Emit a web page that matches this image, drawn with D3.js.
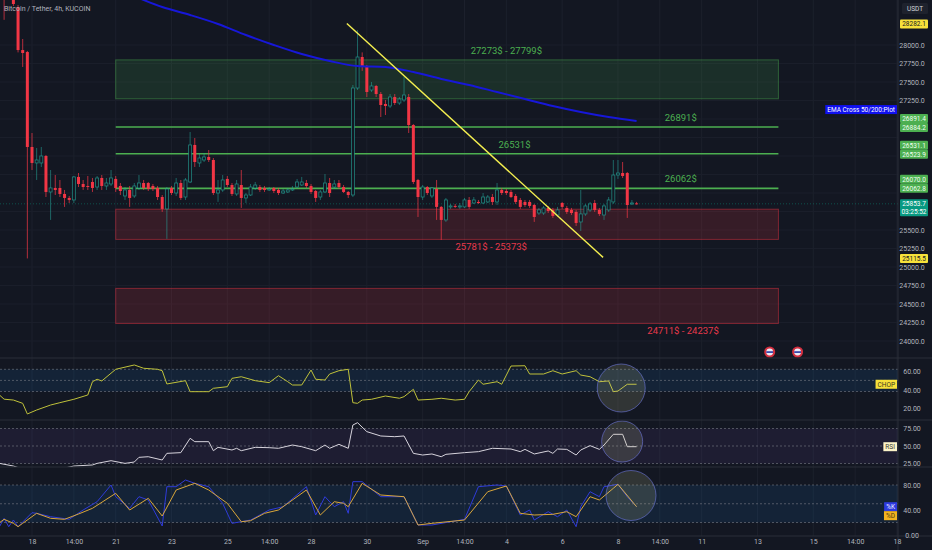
<!DOCTYPE html>
<html>
<head>
<meta charset="utf-8">
<script src="https://d3js.org/d3.v7.min.js"></script>
<style>
  html, body { margin: 0; padding: 0; background: #131722; overflow: hidden; }
  svg { display: block; font-family: Roboto, 'Noto Sans', sans-serif; }
</style>
</head>
<body>
<script>
/* global d3 */
(function () {
  'use strict'

  // BTC/USDT 4h candles, bar index k (k = 0 is Aug 17 10:00), first bar k = -2
  var firstK = -2
  var opens = [
    28900, 28700, 28650, 28513, 27932, 27905, 26622, 26406, 26406, 26500,
    26014, 26068, 26068, 25987, 25933, 25906, 26217, 26122, 26095, 26149,
    26081, 26203, 26095, 26122, 26190, 26095, 25960, 26041, 25960, 26068,
    26135, 26135, 26095, 26068, 25946, 25785, 26068, 26000, 26135, 25946,
    26149, 26649, 26406, 26446, 26487, 26446, 26000, 26041, 26190, 26108,
    25987, 26108, 25933, 25973, 26068, 26081, 26068, 26041, 26068, 26041,
    26000, 26014, 26041, 26081, 26108, 26135, 26095, 26027, 25946, 26014,
    26135, 26081, 26135, 26081, 26014, 25973, 27419, 27838, 27703, 27392,
    27446, 27338, 27203, 27176, 27297, 27216, 27257, 27297, 26919, 26176,
    25946, 26081, 25960, 26054, 25812, 25636, 25812, 25825, 25812, 25812,
    25906, 25865, 25879, 25865, 25879, 25946, 25879, 26041, 26027, 26014,
    25960, 25906, 25879, 25879, 25838, 25730, 25730, 25798, 25771, 25703,
    25865, 25798, 25771, 25744, 25609, 25717, 25771, 25865, 25771, 25703,
    25771, 25879, 26243, 26270, 26270, 25852, 25860
  ]
  var highs = [
    29000, 28950, 28700, 28540, 28081, 27920, 26811, 26608, 26622, 26514,
    26311, 26243, 26176, 26041, 25960, 26230, 26270, 26176, 26230, 26203,
    26230, 26243, 26203, 26311, 26230, 26135, 26081, 26095, 26135, 26243,
    26176, 26149, 26122, 26095, 25973, 26081, 26095, 26203, 26176, 26203,
    26824, 26743, 26540, 26541, 26581, 26473, 26176, 26243, 26230, 26135,
    26176, 26311, 26000, 26122, 26149, 26108, 26095, 26081, 26081, 26068,
    26054, 26068, 26095, 26190, 26217, 26176, 26122, 26041, 26041, 26257,
    26203, 26176, 26176, 26108, 26027, 27460, 28200, 27900, 27730, 27500,
    27460, 27365, 27257, 27338, 27338, 27297, 27568, 27338, 26932, 26190,
    26108, 26095, 26081, 26176, 25825, 25933, 25852, 25852, 25865, 25933,
    25946, 25946, 25906, 26000, 25973, 25987, 26135, 26068, 26054, 26041,
    25987, 25933, 25906, 25906, 25852, 25798, 25825, 25825, 25798, 25812,
    25879, 25825, 25798, 25771, 26041, 25852, 25879, 25906, 25798, 25852,
    25946, 26446, 26446, 26419, 26284, 25906, 25880
  ]
  var lows = [
    28340, 28620, 28527, 27900, 27703, 25115.5, 26311, 26176, 26351, 25946,
    25636, 25973, 25946, 25812, 25865, 25865, 26081, 26041, 26041, 26014,
    26041, 26041, 26041, 26095, 26014, 25973, 25906, 25812, 25933, 26041,
    26041, 26027, 26027, 25906, 25744, 25380, 25973, 25960, 25906, 25906,
    26135, 26352, 26352, 26419, 26419, 25973, 25880, 26014, 26081, 25960,
    25960, 25798, 25865, 25960, 26041, 26014, 26014, 26027, 26000, 25973,
    25987, 26000, 26027, 26068, 26095, 26068, 25987, 25879, 25906, 26000,
    25946, 26054, 26054, 26000, 25933, 25946, 27392, 27650, 27297, 27365,
    27297, 27027, 27054, 27149, 27189, 27189, 27230, 26811, 26122, 25676,
    25906, 25973, 25933, 25636, 25366, 25609, 25785, 25798, 25785, 25798,
    25785, 25852, 25852, 25852, 25865, 25838, 25838, 25973, 25973, 25933,
    25852, 25785, 25812, 25798, 25609, 25703, 25703, 25730, 25663, 25676,
    25785, 25717, 25703, 25555, 25487, 25690, 25744, 25744, 25690, 25636,
    25744, 25852, 26190, 26203, 25663, 25838, 25845
  ]
  var closes = [
    28700, 28650, 28554, 27932, 27892, 26622, 26406, 26446, 26500, 26014,
    26068, 26041, 25987, 25933, 25906, 26217, 26122, 26081, 26090, 26068,
    26203, 26095, 26135, 26203, 26068, 26027, 26041, 25933, 26095, 26135,
    26068, 26054, 26054, 25946, 25785, 26054, 26000, 26135, 25933, 26176,
    26649, 26419, 26473, 26487, 26446, 26000, 26041, 26176, 26108, 25987,
    26122, 25933, 25973, 26081, 26108, 26041, 26041, 26054, 26027, 26000,
    26027, 26041, 26054, 26149, 26149, 26095, 26014, 25933, 26014, 26135,
    26000, 26122, 26081, 26014, 25973, 27419, 27838, 27703, 27365, 27446,
    27338, 27189, 27176, 27297, 27216, 27270, 27324, 26919, 26149, 25946,
    26081, 26000, 26068, 25812, 25636, 25906, 25825, 25812, 25825, 25906,
    25812, 25906, 25865, 25946, 25946, 25879, 26041, 26000, 26000, 25946,
    25879, 25812, 25838, 25825, 25676, 25771, 25798, 25757, 25690, 25771,
    25812, 25744, 25730, 25595, 25717, 25825, 25852, 25771, 25717, 25825,
    25906, 26243, 26270, 26230, 25838, 25865, 25853.7
  ]

  // EMA 200, [bar, price]
  var emaPts = [
    [26, 28660], [32, 28513], [38, 28405], [44, 28284], [50, 28135], [56, 28000],
    [62, 27878], [68, 27784], [74, 27716], [80, 27703], [86, 27635], [92, 27541],
    [98, 27460], [104, 27365], [110, 27270], [116, 27176], [122, 27095], [128, 27027],
    [134, 26973]
  ]
  // yellow trend line, [bar, price]
  var trendPts = [[71.7, 28290], [126.8, 25130]]

  // supply / demand zones and levels
  var zoneTops = [27799, 25781, 24711]
  var zoneBottoms = [27273, 25373, 24237]
  var zoneTexts = ['27273$ - 27799$', '25781$ - 25373$', '24711$ - 24237$']
  var zoneBull = [true, false, false]
  var levels = [26891, 26531, 26062]
  var levelTexts = ['26891$', '26531$', '26062$']
  var zoneFrom = Date.UTC(2023, 7, 21, 2)
  var zoneTo = Date.UTC(2023, 8, 13, 20)

  // indicators, [bar, value]
  var chopPts = [
    [-3, 34.5], [-2, 30], [0, 29.1], [2, 25.6], [3, 14.3], [5, 18.5], [8, 23.8], [10, 26.3],
    [13, 29.9], [16, 34.5], [17, 48.6], [18, 51.2], [19, 49.4], [22, 61.8], [26, 66.4],
    [28, 62.9], [31, 61.8], [32, 60.3], [33, 46.2], [37, 49.7], [38, 38], [42, 38],
    [43, 41.6], [46, 43.3], [47, 52.2], [49, 53.9], [52, 49.7], [55, 47.6], [57, 55],
    [59, 48.6], [60, 45.1], [62, 45.1], [64, 61], [65, 51.2], [67, 50.4], [68, 56.8],
    [70, 60.3], [72, 61.8], [73, 26.3], [74, 25.6], [75, 29.1], [77, 29.9], [80, 33.4],
    [83, 31], [84, 32.7], [86, 40.5], [87, 29.1], [90, 29.9], [92, 31], [95, 29.1],
    [97, 29.9], [98, 38], [100, 50.4], [101, 45.9], [104, 48.6], [105, 45.9], [107, 65.3],
    [110, 65.6], [111, 56.8], [114, 56.8], [116, 60.3], [118, 56.8], [121, 60.3],
    [122, 55.7], [124, 53.9], [126, 48.6], [128, 49.4], [129, 38], [130, 38.7],
    [132, 45.9], [134, 45.9]
  ]
  var rsiPts = [
    [-3, 25.2], [0, 21.4], [2, 17], [4, 13], [7, 14], [10, 17], [13, 21.4], [17, 22.9],
    [18, 25.2], [21, 29], [24, 25.2], [26, 27.1], [27, 33.8], [29, 34.7], [32, 30],
    [33, 39.5], [36, 40.5], [38, 61], [39, 56.2], [42, 56.2], [43, 43.3], [44, 48.1],
    [47, 44.3], [48, 46.7], [49, 43.3], [52, 48.1], [55, 47.6], [57, 46.7], [60, 51.4],
    [62, 49], [65, 43.3], [67, 51.4], [68, 46.7], [70, 52.4], [72, 46.7], [73, 80],
    [74, 83.3], [76, 70.5], [79, 64.3], [82, 63.3], [84, 64.3], [86, 39.5], [88, 37.1],
    [90, 38.6], [92, 34.7], [93, 38.1], [97, 40.5], [100, 41.9], [103, 46.7], [107, 45.7],
    [109, 41.9], [110, 45.2], [112, 38.6], [115, 42.9], [116, 39.5], [117, 45.7],
    [119, 45.2], [121, 37.1], [122, 44.3], [124, 50.5], [126, 45.2], [127, 51.4],
    [129, 66.7], [131, 66.7], [132, 49], [134, 49]
  ]
  var stochK = [
    [-3, 13.3], [-2, 26.7], [-1, 13.3], [0, 24], [1, 13.3], [4, 35.7], [5, 34.7], [8, 29.3],
    [12, 25.1], [15, 40], [18, 53.3], [21, 80], [22, 61.3], [25, 42.7], [27, 61.3], [29, 56],
    [32, 14.4], [33, 77.3], [35, 77.3], [37, 88], [39, 82.7], [42, 77.3], [45, 50.7],
    [47, 18.7], [49, 21.3], [51, 24], [55, 40], [58, 45.3], [63, 77.3], [65, 32], [67, 61.3],
    [69, 45.3], [71, 53.3], [72, 34.7], [73, 85.3], [75, 85.3], [79, 61.3], [84, 61.3],
    [87, 16], [90, 16], [97, 25.1], [100, 77.3], [104, 80], [106, 78.4], [109, 32],
    [111, 40], [112, 24], [115, 37.3], [117, 29.3], [119, 40], [121, 13.3], [122, 45.3],
    [124, 69.3], [126, 61.3], [127, 77.3], [130, 81.1], [132, 61.3], [134, 45.3]
  ]
  var stochD = [
    [-3, 19.7], [-2, 25.1], [0, 18.7], [1, 13.3], [2, 18.7], [5, 34.7], [8, 26.7], [11, 25.1],
    [14, 33.6], [17, 42.7], [22, 66.7], [25, 40], [29, 58.7], [32, 30.4], [35, 72],
    [39, 82.7], [42, 72], [46, 50.7], [49, 21.3], [51, 22.9], [54, 34.7], [57, 40],
    [63, 72], [66, 32], [69, 53.3], [71, 50.7], [72, 45.3], [75, 82.7], [79, 64], [84, 61.3],
    [87, 16], [90, 18.7], [97, 24], [102, 69.3], [106, 78.4], [109, 34.7], [112, 32],
    [116, 33.1], [119, 37.3], [121, 29.3], [124, 61.3], [126, 56], [129, 74.7], [130, 81.1],
    [134, 45.3]
  ]
  // hand-drawn circles on the indicator panes, [bar, value]
  var chopMark = [130.7, 41.9]
  var rsiMark = [130.9, 56.4]
  var stochMark = [132.8, 63.2]

  // axis tick labels
  var timeTicks = [
    Date.UTC(2023, 7, 18, 2), Date.UTC(2023, 7, 19, 14), Date.UTC(2023, 7, 21, 2),
    Date.UTC(2023, 7, 23, 2), Date.UTC(2023, 7, 25, 2), Date.UTC(2023, 7, 26, 14),
    Date.UTC(2023, 7, 28, 2), Date.UTC(2023, 7, 30, 2), Date.UTC(2023, 8, 1, 2),
    Date.UTC(2023, 8, 2, 14), Date.UTC(2023, 8, 4, 2), Date.UTC(2023, 8, 6, 2),
    Date.UTC(2023, 8, 8, 2), Date.UTC(2023, 8, 9, 14), Date.UTC(2023, 8, 11, 2),
    Date.UTC(2023, 8, 13, 2), Date.UTC(2023, 8, 15, 2), Date.UTC(2023, 8, 16, 14),
    Date.UTC(2023, 8, 18, 2)
  ]
  var timeLabels = ['18', '14:00', '21', '23', '25', '14:00', '28', '30', 'Sep', '14:00',
    '4', '6', '8', '14:00', '11', '13', '15', '14:00', '18']
  var priceTicks = d3.range(24000, 28001, 250)
  var chopTicks = [20, 40, 60]
  var rsiTicks = [25, 50, 75]
  var stochTicks = [0, 40, 80]

  // price tags on the right scale
  var tagPrices = [25115.5, 25853.7, 26062.8, 26070.0, 26523.9, 26531.1, 26884.2, 26891.4, 28282.1]
  var tagKinds = ['hl', 'last', 'lvl', 'lvl', 'lvl', 'lvl', 'lvl', 'lvl', 'hl']
  var countdown = '03:25:52'
  var eventTimes = [Date.UTC(2023, 8, 13, 12, 30), Date.UTC(2023, 8, 14, 12, 30)]

  var W = 932
  var H = 550
  var plotR = 898
  var H4 = 4 * 3600 * 1000
  var barZero = Date.UTC(2023, 7, 17, 10)
  var bg = '#131722'
  var upCol = '#26a69a'
  var downCol = '#f23645'
  var sep = '#2a2e39'

  function barTime (k) { return new Date(barZero + k * H4) }

  var x = d3.scaleUtc()
    .domain([new Date(Date.UTC(2023, 7, 18, 2)), new Date(Date.UTC(2023, 8, 18, 2))])
    .range([32, 897])
  var y = d3.scaleLinear().domain([24000, 28000]).range([341, 45])
  var yChop = d3.scaleLinear().domain([20, 60]).range([408.6, 371])
  var yRsi = d3.scaleLinear().domain([25, 75]).range([463.5, 428.5])
  var yStoch = d3.scaleLinear().domain([0, 80]).range([535, 485])

  var panes = {
    main: [0, 358],
    chop: [358, 420],
    rsi: [420, 467],
    stoch: [467, 536]
  }

  var svg = d3.select('body').append('svg')
    .attr('width', W)
    .attr('height', H)

  svg.append('rect').attr('width', W).attr('height', H).attr('fill', bg)

  var defs = svg.append('defs')
  Object.keys(panes).forEach(function (name) {
    defs.append('clipPath').attr('id', 'clip-' + name)
      .append('rect')
      .attr('x', 0).attr('y', panes[name][0])
      .attr('width', plotR).attr('height', panes[name][1] - panes[name][0])
  })

  // grid
  var grid = svg.append('g')
  grid.selectAll('line.v')
    .data(timeTicks)
    .enter().append('line')
      .attr('x1', function (d) { return x(d) })
      .attr('x2', function (d) { return x(d) })
      .attr('y1', 0).attr('y2', 536)
      .attr('stroke', '#1c202c')
  grid.selectAll('line.h')
    .data(priceTicks)
    .enter().append('line')
      .attr('x1', 0).attr('x2', plotR)
      .attr('y1', function (d) { return y(d) })
      .attr('y2', function (d) { return y(d) })
      .attr('stroke', '#1a1e2a')

  // ---- main pane
  var main = svg.append('g').attr('clip-path', 'url(#clip-main)')

  var zoneG = main.append('g')
  zoneTops.forEach(function (top, i) {
    var col = zoneBull[i] ? '76,175,80' : '242,54,69'
    zoneG.append('rect')
      .attr('x', x(zoneFrom))
      .attr('y', y(top))
      .attr('width', x(zoneTo) - x(zoneFrom))
      .attr('height', y(zoneBottoms[i]) - y(top))
      .attr('fill', 'rgba(' + col + ',0.16)')
      .attr('stroke', 'rgba(' + col + ',0.45)')
      .attr('stroke-width', 1)
  })
  levels.forEach(function (lv) {
    zoneG.append('line')
      .attr('x1', x(zoneFrom)).attr('x2', x(zoneTo))
      .attr('y1', y(lv)).attr('y2', y(lv))
      .attr('stroke', '#4caf50')
      .attr('stroke-width', 1.6)
  })

  // current price line
  var lastClose = closes[closes.length - 1]
  main.append('line')
    .attr('x1', 0).attr('x2', plotR)
    .attr('y1', y(lastClose)).attr('y2', y(lastClose))
    .attr('stroke', '#089981')
    .attr('stroke-opacity', 0.45)
    .attr('stroke-dasharray', '1,2')

  // candles
  var candles = opens.map(function (o, i) {
    return { k: firstK + i, o: o, h: highs[i], l: lows[i], c: closes[i] }
  })
  var bw = 3
  var cg = main.selectAll('g.candle')
    .data(candles)
    .enter().append('g')
  cg.append('line')
    .attr('x1', function (d) { return x(barTime(d.k)) })
    .attr('x2', function (d) { return x(barTime(d.k)) })
    .attr('y1', function (d) { return y(d.h) })
    .attr('y2', function (d) { return y(d.l) })
    .attr('stroke', function (d) { return d.c >= d.o ? upCol : downCol })
    .attr('stroke-opacity', function (d) { return d.c >= d.o ? 0.7 : 0.9 })
    .attr('stroke-width', 0.8)
  cg.append('rect')
    .attr('x', function (d) { return x(barTime(d.k)) - bw / 2 })
    .attr('y', function (d) { return y(Math.max(d.o, d.c)) })
    .attr('width', bw)
    .attr('height', function (d) { return Math.max(1, Math.abs(y(d.o) - y(d.c))) })
    .attr('fill', function (d) { return d.c >= d.o ? bg : downCol })
    .attr('stroke', function (d) { return d.c >= d.o ? upCol : 'none' })
    .attr('stroke-opacity', 0.75)
    .attr('stroke-width', 0.8)

  // EMA + trend line
  main.append('path')
    .datum(emaPts)
    .attr('d', d3.line()
      .x(function (d) { return x(barTime(d[0])) })
      .y(function (d) { return y(d[1]) })
      .curve(d3.curveMonotoneX))
    .attr('fill', 'none')
    .attr('stroke', '#1717d9')
    .attr('stroke-width', 2)
  main.append('path')
    .datum(trendPts)
    .attr('d', d3.line()
      .x(function (d) { return x(barTime(d[0])) })
      .y(function (d) { return y(d[1]) }))
    .attr('stroke', '#f5f050')
    .attr('stroke-width', 1.4)

  // zone / level captions
  var zoneTextAt = [Date.UTC(2023, 8, 4, 2), Date.UTC(2023, 8, 3, 13), Date.UTC(2023, 8, 10, 10)]
  var levelTextAt = [Date.UTC(2023, 8, 10, 8), Date.UTC(2023, 8, 4, 9), Date.UTC(2023, 8, 10, 8)]
  zoneTexts.forEach(function (t, i) {
    main.append('text')
      .attr('x', x(zoneTextAt[i]))
      .attr('y', zoneBull[i] ? y(zoneTops[i]) - 6 : y(zoneBottoms[i]) + 11)
      .attr('text-anchor', 'middle')
      .attr('fill', zoneBull[i] ? '#4caf50' : '#e8394b')
      .style('font-size', '9.5px')
      .text(t)
  })
  levelTexts.forEach(function (t, i) {
    main.append('text')
      .attr('x', x(levelTextAt[i]))
      .attr('y', y(levels[i]) - 6)
      .attr('text-anchor', 'middle')
      .attr('fill', '#4caf50')
      .style('font-size', '9.5px')
      .text(t)
  })

  // economic event markers
  var ev = main.selectAll('g.ev')
    .data(eventTimes)
    .enter().append('g')
      .attr('transform', function (d) { return 'translate(' + x(d) + ',352)' })
  ev.append('circle').attr('r', 5.5).attr('fill', '#d32f3f')
  ev.append('circle').attr('r', 3.4).attr('fill', '#e8eaf6')
  ev.append('rect').attr('x', -3.4).attr('y', -0.8).attr('width', 6.8).attr('height', 1.8).attr('fill', '#3949ab')

  svg.append('text')
    .attr('x', 4).attr('y', 11)
    .attr('fill', '#b2b5be')
    .style('font-size', '7px')
    .text('Bitcoin / Tether, 4h, KUCOIN')

  // ---- indicator panes
  function pane (name, scale, bandHi, bandLo, bandFill, dashes) {
    var g = svg.append('g').attr('clip-path', 'url(#clip-' + name + ')')
    g.append('rect')
      .attr('x', 0).attr('width', plotR)
      .attr('y', scale(bandHi))
      .attr('height', scale(bandLo) - scale(bandHi))
      .attr('fill', bandFill)
    g.selectAll('line.d')
      .data(dashes)
      .enter().append('line')
        .attr('x1', 0).attr('x2', plotR)
        .attr('y1', function (d) { return scale(d) })
        .attr('y2', function (d) { return scale(d) })
        .attr('stroke', '#787b86')
        .attr('stroke-opacity', 0.6)
        .attr('stroke-dasharray', '2,2')
    return g
  }
  function drawLine (g, pts, scale, col) {
    g.append('path')
      .datum(pts)
      .attr('d', d3.line()
        .x(function (d) { return x(barTime(d[0])) })
        .y(function (d) { return scale(d[1]) }))
      .attr('fill', 'none')
      .attr('stroke', col)
      .attr('stroke-width', 1)
  }
  function drawMark (g, m, scale, r) {
    g.append('circle')
      .attr('cx', x(barTime(m[0])))
      .attr('cy', scale(m[1]))
      .attr('r', r)
      .attr('fill', 'rgba(200,200,150,0.17)')
      .attr('stroke', 'rgba(110,120,220,0.6)')
      .attr('stroke-width', 1)
  }

  var chopG = pane('chop', yChop, 61.8, 38.2, 'rgba(33,150,243,0.10)', [61.8, 50, 38.2])
  drawLine(chopG, chopPts, yChop, '#bfc13a')
  drawMark(chopG, chopMark, yChop, 24)

  var rsiG = pane('rsi', yRsi, 75, 25, 'rgba(126,87,194,0.10)', [75, 50, 25])
  drawLine(rsiG, rsiPts, yRsi, '#d6d3dc')
  drawMark(rsiG, rsiMark, yRsi, 20.5)

  var stochG = pane('stoch', yStoch, 80, 20, 'rgba(33,150,243,0.10)', [80, 50, 20])
  drawLine(stochG, stochK, yStoch, '#2f3bd8')
  drawLine(stochG, stochD, yStoch, '#d9a63a')
  drawMark(stochG, stochMark, yStoch, 25)

  // separators
  var sepG = svg.append('g').attr('stroke', sep)
  ;[358, 420, 467, 536].forEach(function (yy) {
    sepG.append('line').attr('x1', 0).attr('x2', W).attr('y1', yy).attr('y2', yy)
  })
  sepG.append('line').attr('x1', plotR).attr('x2', plotR).attr('y1', 0).attr('y2', H)

  // ---- price tags: stacked bottom-up so they do not overlap
  var tagYs = []
  var prevY = Infinity
  tagPrices.forEach(function (p, i) {
    var yy = y(p)
    var need = tagKinds[i - 1] === 'last' ? 13 : 9
    if (prevY - yy < need) yy = prevY - need
    prevY = yy
    tagYs.push(yy)
  })
  function nearTag (yy, gap) {
    return tagYs.some(function (ty, i) {
      var bottom = tagKinds[i] === 'last' ? ty + 12.5 : ty + 4.5
      return yy > ty - 4.5 - gap && yy < bottom + gap
    })
  }

  // ---- axes
  function rightAxis (scale, ticks, fmt, lo, hi, avoidTags) {
    var g = svg.append('g')
      .attr('transform', 'translate(' + plotR + ',0)')
      .call(d3.axisRight(scale).tickValues(ticks).tickFormat(fmt).tickSize(0))
    g.select('.domain').remove()
    g.selectAll('.tick')
      .filter(function (d) {
        var p = scale(d)
        return p < lo || p > hi || (avoidTags && nearTag(p, 3.5))
      })
      .remove()
    g.selectAll('text')
      .attr('x', 14)
      .attr('text-anchor', 'middle')
      .attr('fill', '#b2b5be')
      .style('font-size', '7px')
      .style('font-family', 'Roboto, sans-serif')
    return g
  }
  rightAxis(y, priceTicks, d3.format('.1f'), 16, 356, true)
  rightAxis(yChop, chopTicks, d3.format('.2f'), 360, 418, false)
  rightAxis(yRsi, rsiTicks, d3.format('.2f'), 422, 466, false)
  rightAxis(yStoch, stochTicks, d3.format('.2f'), 469, 536, false)

  var xa = svg.append('g')
    .attr('transform', 'translate(0,536)')
    .call(d3.axisBottom(x)
      .tickValues(timeTicks.map(function (d) { return new Date(d) }))
      .tickFormat(function (d, i) { return timeLabels[i] })
      .tickSize(0)
      .tickPadding(3))
  xa.select('.domain').remove()
  xa.selectAll('text')
    .attr('fill', '#b2b5be')
    .style('font-size', '7px')
    .style('font-family', 'Roboto, sans-serif')

  // USDT box
  svg.append('rect').attr('x', 902).attr('y', 3).attr('width', 26).attr('height', 11).attr('rx', 1.5).attr('fill', '#1e222d')
  svg.append('text').attr('x', 915).attr('y', 10.7).attr('text-anchor', 'middle')
    .attr('fill', '#d1d4dc').style('font-size', '6.5px').text('USDT')

  function tag (yy, lines, fill, fg) {
    var g = svg.append('g')
    g.append('rect')
      .attr('x', 900).attr('y', yy - 4.5)
      .attr('width', 28).attr('height', 9 + (lines.length - 1) * 8)
      .attr('rx', 1)
      .attr('fill', fill)
    lines.forEach(function (t, j) {
      g.append('text')
        .attr('x', 914).attr('y', yy + 2.3 + j * 8)
        .attr('text-anchor', 'middle')
        .attr('fill', fg)
        .style('font-size', '6.5px')
        .text(t)
    })
  }
  tagPrices.forEach(function (p, i) {
    var kind = tagKinds[i]
    if (kind === 'hl') tag(tagYs[i], [p.toFixed(1)], '#f7e13a', '#131722')
    else if (kind === 'lvl') tag(tagYs[i], [p.toFixed(1)], '#4caf50', '#f0fff0')
    else tag(tagYs[i], [p.toFixed(1), countdown], '#089981', '#ffffff')
  })

  // name badges, right aligned to the plot edge
  function badge (yy, text, fill, fg) {
    var g = svg.append('g')
    var r = g.append('rect')
    var t = g.append('text')
      .attr('y', yy + 2.3)
      .attr('fill', fg)
      .style('font-size', '6.5px')
      .text(text)
    var w = t.node().getComputedTextLength() + 4
    r.attr('x', plotR - 1 - w).attr('y', yy - 4.5)
      .attr('width', w).attr('height', 9)
      .attr('fill', fill)
    t.attr('x', plotR - 1 - w + 2)
  }

  // EMA name label, pushed above the level tags it would overlap
  var emaY = y(emaPts[emaPts.length - 1][1])
  tagYs.forEach(function (ty) { if (Math.abs(ty - emaY) < 9) emaY = ty - 9 })
  badge(emaY, 'EMA Cross 50/200:Plot', '#1010f0', '#ffffff')

  badge(yChop(chopPts[chopPts.length - 1][1]), 'CHOP', '#f7e13a', '#3a3a20')
  badge(yRsi(rsiPts[rsiPts.length - 1][1]), 'RSI', '#fbf3c8', '#3a3a30')
  var kY = yStoch(stochK[stochK.length - 1][1])
  badge(kY, '%K', '#2d3ae0', '#e8eaff')
  badge(kY + 9, '%D', '#f3b21f', '#4a3a10')
}())
</script>
</body>
</html>
